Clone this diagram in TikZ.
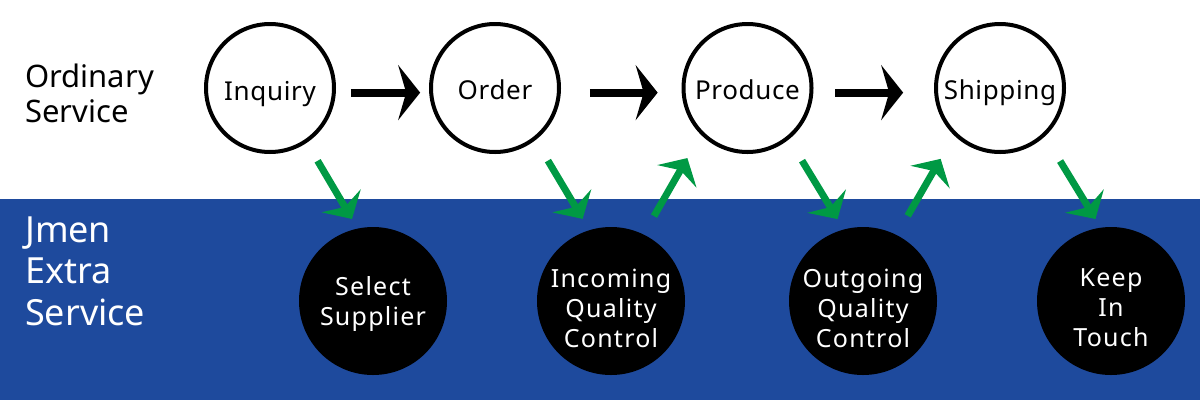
\documentclass[tikz,border=0pt]{standalone}
\usepackage{fontspec}
\setmainfont{Noto Sans}
\usetikzlibrary{arrows.meta}
\definecolor{bandblue}{RGB}{30,74,157}
\definecolor{tickgreen}{RGB}{0,153,68}

\begin{document}
\begin{tikzpicture}[x=1pt, y=-1pt,
    ring/.style={circle, draw=black, line width=4pt, fill=white, minimum size=128pt, inner sep=0pt},
    disc/.style={circle, fill=black, minimum size=148pt, inner sep=0pt},
    ringtext/.style={font=\fontsize{26}{30}\selectfont\addfontfeature{LetterSpace=2.5}, anchor=base, inner sep=0pt},
    disctext/.style={font=\fontsize{25}{30}\selectfont\addfontfeature{LetterSpace=5}, text=white, align=center, inner sep=0pt},
    side/.style={anchor=west, align=left, inner sep=0pt},
    flow/.style={line width=8pt, -{Stealth[length=22pt, width=55pt, inset=8pt]}},
    extra/.style={tickgreen, line width=7pt, -{Stealth[length=21pt, width=45pt, inset=7pt]}}
]
\useasboundingbox (0,0) rectangle (1200,400);
% Blue band for the extra service
\fill[bandblue] (0,199) rectangle (1200,400);

% Row labels
\node[side, font=\fontsize{31}{35}\selectfont] (ordinary) at (25,93) {Ordinary\\Service};
\node[side, text=white, font=\fontsize{36}{41.5}\selectfont] (jmen) at (25,271) {Jmen\\Extra\\Service};

% Ordinary steps
\node[ring] (inq) at (270,88) {};
\node[ring] (ord) at (495,88) {};
\node[ring] (pro) at (747.5,88) {};
\node[ring] (shp) at (1000,88) {};
\node[ringtext] (inq-t) at ([yshift=-12pt]inq.center) {Inquiry};
\node[ringtext] (ord-t) at ([yshift=-11pt]ord.center) {Order};
\node[ringtext] (pro-t) at ([yshift=-11pt]pro.center) {Produce};
\node[ringtext] (shp-t) at ([yshift=-11pt]shp.center) {Shipping};

% Extra steps
\node[disc] (sel) at (373,301) {};
\node[disc] (inc) at (611,301) {};
\node[disc] (out) at (863,301) {};
\node[disc] (kit) at (1111,301) {};
\node[disctext] (sel-t) at ([yshift=-3pt]sel.center) {Select\\Supplier};
\node[disctext] (inc-t) at ([yshift=-7pt]inc.center) {Incoming\\Quality\\Control};
\node[disctext] (out-t) at ([yshift=-7pt]out.center) {Outgoing\\Quality\\Control};
\node[disctext] (kit-t) at ([yshift=-7pt]kit.center) {Keep\\In\\Touch};

% Black arrows along the ordinary row
\foreach \a/\b/\s/\t in {inq/ord/15pt/9pt, ord/pro/29pt/24pt, pro/shp/22pt/31pt}
    \draw[flow, shorten <=\s, shorten >=\t] (\a.-4) -- (\b.184);

% Green arrows into and out of the extra row
\foreach \a/\b/\aa/\bb/\s/\t in {
    inq/sel/-56/102/21pt/11pt,
    ord/inc/-52/107/24pt/13pt,
    pro/out/-51/105/25pt/12pt,
    shp/kit/-47/98/29pt/10pt,
    inc/pro/64/225/21pt/27pt,
    out/shp/63/226/22pt/27pt
}
    \draw[extra, shorten <=\s, shorten >=\t] (\a.\aa) -- (\b.\bb);
\end{tikzpicture}
\end{document}
